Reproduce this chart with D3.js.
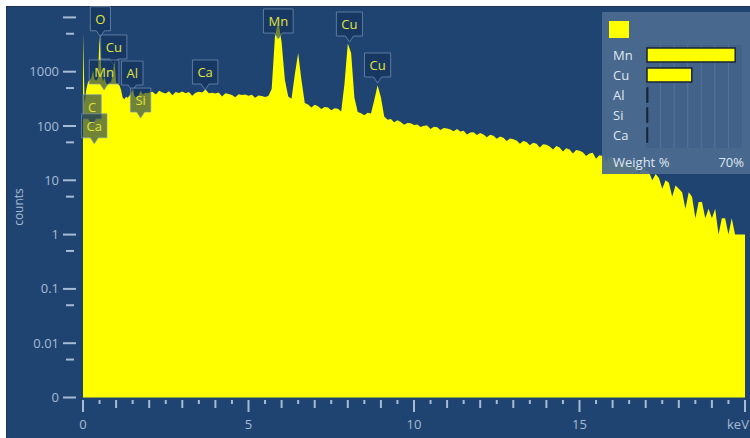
<!DOCTYPE html>
<html><head><meta charset="utf-8">
<script src="https://cdn.jsdelivr.net/npm/d3@7"></script>
<style>
html,body{margin:0;padding:0;background:#fff;}
svg{display:block;font-family:"Open Sans","Noto Sans",sans-serif;}
</style></head><body>
<svg id="c" width="750" height="438"></svg>
<script>
// ---- data ----
const lowStepKeV = 0.05;   // channels 0.00 .. 1.95 keV
const countsLow = [5200,260,480,640,700,760,1050,720,690,760,
  4600,1200,650,800,600,580,620,650,900,1700,
  620,600,560,460,330,310,345,330,360,400,
  520,360,330,350,390,450,380,395,410,400];
const highStartKeV = 2.0;
const highStepKeV = 0.1;   // channels 2.0 .. 20.0 keV
const countsHigh = [
  412,428,380,446,415,396,436,370,425,404,
  430,399,421,360,410,426,414,468,402,410,
  395,412,350,401,389,374,340,383,371,379,
  362,378,330,366,355,341,358,480,4500,8800,
  3500,700,350,318,900,2200,700,265,248,220,
  246,232,205,224,219,196,212,208,185,600,
  3300,2200,330,182,171,158,176,170,300,560,
  340,150,131,134,117,127,119,106,114,112,
  104,107,96,101,102,88,97,95,84,92,
  90,86,80,88,79,82,70,76,77,68,
  74,70,62,69,66,58,64,61,53,59,
  57,54,47,53,51,44,49,47,40,46,
  45,42,37,43,40,34,39,37,31,36,
  35,33,28,31,32,25,29,28,22,27,
  26,24,19,23,21,16,20,18,13,17,
  15,14,10,13,11,7,10,9,5,8,
  7,6,3,6,5,2,4,4,2,3,
  2,3,1,2,2,1,2,1,1,1,
  1];
const xTickLabels = [0, 5, 10, 15];
const yTickValues = [10000, 1000, 100, 10, 1, 0.1, 0.01, 0.001];
const yTickLabels = ["", "1000", "100", "10", "1", "0.1", "0.01", "0"];
const yMinorValues = [5000, 500, 50, 5, 0.5, 0.05, 0.005];
const markerNames    = ["O", "Cu", "Mn", "Al", "C", "Si", "Ca", "Ca", "Mn", "Cu", "Cu"];
const markerEnergies = [0.525, 0.93, 0.637, 1.487, 0.277, 1.74, 0.341, 3.69, 5.9, 8.05, 8.9];
const markerCounts   = [4400, 1330, 460, 440, 106, 140, 47, 460, 4000, 3520, 620];
const legendElements = ["Mn", "Cu", "Al", "Si", "Ca"];
const legendWeights  = [65, 33, 0.5, 0.4, 0.3];
const legendMax = 70;

// ---- build spectrum ----
const spectrum = [];
countsLow.forEach((c, i) => spectrum.push({e: i * lowStepKeV, c}));
countsHigh.forEach((c, i) => spectrum.push({e: highStartKeV + i * highStepKeV, c}));

const svg = d3.select("#c");
const W = 750, H = 438;
const BG = "#1f4471";
const AX = "#a6bbd4";

svg.append("rect").attr("x", 0).attr("y", 0).attr("width", W).attr("height", H).attr("fill", "#fff");
svg.append("rect").attr("x", 6.5).attr("y", 6.5).attr("width", W - 6).attr("height", H - 6)
  .attr("fill", BG).attr("stroke", "#22344c").attr("stroke-width", 1);

const x = d3.scaleLinear().domain([0, 20]).range([83, 745]);
const y = d3.scaleLog().domain([0.001, 10000]).range([397.5, 17.4]);
const yv = v => y(Math.max(v, 0.001));

svg.append("clipPath").attr("id", "plotclip").append("rect")
  .attr("x", 83).attr("y", 7).attr("width", 662).attr("height", 391);

const area = d3.area().x(d => x(d.e)).y0(y(0.001)).y1(d => yv(d.c));
svg.append("path").datum(spectrum).attr("clip-path", "url(#plotclip)")
  .attr("d", area).attr("fill", "#ffff00");

// ---- x axis ----
const xTicks = d3.range(0, 41).map(i => i * 0.5);
const xg = svg.append("g");
xg.selectAll("line").data(xTicks).join("line")
  .attr("x1", d => x(d)).attr("x2", d => x(d))
  .attr("y1", 400)
  .attr("y2", d => d % 5 === 0 ? 412 : (d % 1 === 0 ? 408 : 404))
  .attr("stroke", AX).attr("stroke-width", 2);
xg.selectAll("text").data(xTickLabels).join("text")
  .attr("x", d => x(d)).attr("y", 429).attr("text-anchor", "middle")
  .attr("fill", AX).attr("font-size", 13).text(d => d);
xg.append("text").attr("x", 727).attr("y", 429).attr("fill", AX)
  .attr("font-size", 13).text("keV");

// ---- y axis ----
const yg = svg.append("g");
yg.selectAll("line.maj").data(yTickValues).join("line").attr("class", "maj")
  .attr("x1", 63).attr("x2", 76).attr("y1", d => y(d)).attr("y2", d => y(d))
  .attr("stroke", AX).attr("stroke-width", 2);
yg.selectAll("line.min").data(yMinorValues).join("line").attr("class", "min")
  .attr("x1", 66).attr("x2", 74).attr("y1", d => y(d)).attr("y2", d => y(d))
  .attr("stroke", AX).attr("stroke-width", 2);
yg.selectAll("text").data(yTickValues).join("text")
  .attr("x", 59).attr("y", d => y(d) + 4.5).attr("text-anchor", "end")
  .attr("fill", AX).attr("font-size", 13).text((d, i) => yTickLabels[i]);
svg.append("text").attr("transform", "translate(23,207) rotate(-90)")
  .attr("text-anchor", "middle").attr("fill", AX).attr("font-size", 12).text("counts");

// ---- legend panel ----
const lg = svg.append("g");
lg.append("rect").attr("x", 602).attr("y", 12).attr("width", 148).attr("height", 162)
  .attr("fill", "#4b6a8f").attr("fill-opacity", 0.93);
lg.append("rect").attr("x", 609).attr("y", 21).attr("width", 20).attr("height", 17).attr("fill", "#ffff00");
const bx = d3.scaleLinear().domain([0, legendMax]).range([647, 742]);
lg.append("rect").attr("x", bx(0) - 1).attr("y", 45).attr("width", bx(legendMax) - bx(0) + 1).attr("height", 103)
  .attr("fill", "#43628a");
lg.selectAll("line.grid").data(d3.range(10, legendMax, 10)).join("line").attr("class", "grid")
  .attr("x1", d => bx(d)).attr("x2", d => bx(d)).attr("y1", 45).attr("y2", 148)
  .attr("stroke", "#55749a").attr("stroke-width", 1);
const rowY = i => 55 + i * 20;
lg.selectAll("text.el").data(legendElements).join("text").attr("class", "el")
  .attr("x", 613).attr("y", (d, i) => rowY(i) + 5).attr("fill", "#dfe7f1").attr("font-size", 13).text(d => d);
lg.selectAll("rect.bar").data(legendWeights).join("rect").attr("class", "bar")
  .attr("x", bx(0)).attr("y", (d, i) => rowY(i) - 7)
  .attr("width", d => Math.max(bx(d) - bx(0), 0.5)).attr("height", 14)
  .attr("fill", "#ffff00").attr("stroke", "#172538").attr("stroke-width", 1.5);
lg.append("text").attr("x", 613).attr("y", 167).attr("fill", "#dfe7f1").attr("font-size", 13).text("Weight %");
lg.append("text").attr("x", 744).attr("y", 167).attr("text-anchor", "end").attr("fill", "#dfe7f1").attr("font-size", 13).text(legendMax + "%");

// ---- peak markers ----
const mg = svg.append("g");
markerNames.forEach((name, i) => {
  const cx = x(markerEnergies[i]);
  const tip = y(markerCounts[i]);
  const bh = 24, bottom = tip - 6;
  const g = mg.append("g");
  const t = g.append("text").attr("x", cx).attr("y", bottom - bh / 2 + 5)
    .attr("text-anchor", "middle").attr("fill", "#e2e53c").attr("font-size", 13).text(name);
  const tw = t.node().getComputedTextLength();
  const bw = tw + 10;
  g.insert("path", "text").attr("d",
    `M${cx - bw / 2},${bottom - bh} H${cx + bw / 2} V${bottom} H${cx + 4} L${cx},${tip} L${cx - 4},${bottom} H${cx - bw / 2} Z`)
    .attr("fill", "#11305a").attr("fill-opacity", 0.6)
    .attr("stroke", "#7f9bbd").attr("stroke-opacity", 0.65).attr("stroke-width", 1);
});
</script>
</body></html>
